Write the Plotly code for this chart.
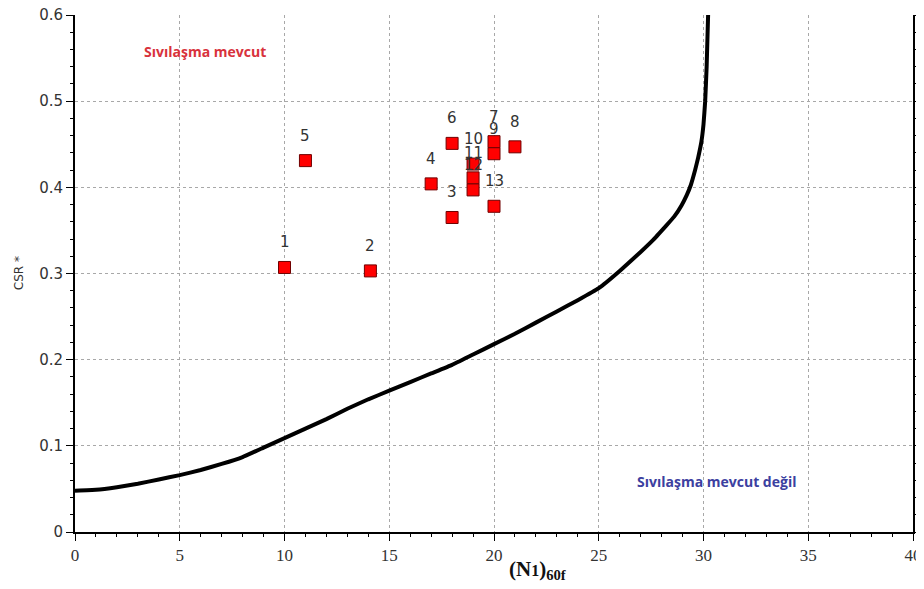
import plotly.graph_objects as go

# Data points (N1)60f vs CSR*
point_labels = ["1", "2", "3", "4", "5", "6", "7", "8", "9", "10", "11", "12", "13"]
point_n = [10.0, 14.1, 18.0, 17.0, 11.0, 18.0, 20.0, 21.0, 20.0, 19.0, 19.0, 19.0, 20.0]
point_csr = [0.307, 0.303, 0.365, 0.404, 0.431, 0.451, 0.453, 0.447, 0.439, 0.427, 0.411, 0.397, 0.378]

# Boundary curve
curve_n = [0, 1, 2, 3, 4, 5, 6, 7, 8, 9, 10, 11, 12, 13, 14, 15, 16, 17, 18, 19, 20, 21, 22, 23, 24, 25,
           26, 27, 27.6, 28.2, 28.6, 28.95, 29.2, 29.4, 29.6, 29.75, 29.9, 30.0, 30.08, 30.15, 30.22]
curve_csr = [0.048, 0.049, 0.052, 0.056, 0.061, 0.066, 0.072, 0.079, 0.087, 0.098, 0.109, 0.120, 0.131,
             0.143, 0.154, 0.164, 0.174, 0.184, 0.194, 0.206, 0.218, 0.230, 0.243, 0.256, 0.269, 0.283,
             0.303, 0.325, 0.339, 0.355, 0.366, 0.379, 0.391, 0.403, 0.420, 0.435, 0.453, 0.473, 0.500, 0.540, 0.600]

x_ticks = [0, 5, 10, 15, 20, 25, 30, 35, 40]
y_ticks = [0, 0.1, 0.2, 0.3, 0.4, 0.5, 0.6]

fig = go.Figure()
fig.add_trace(go.Scatter(x=curve_n, y=curve_csr, mode="lines",
                         line=dict(color="black", width=4, shape="spline", smoothing=0.3),
                         hoverinfo="skip", showlegend=False))
fig.add_trace(go.Scatter(x=point_n, y=point_csr, mode="markers",
                         marker=dict(symbol="square", size=12, color="#ff0000",
                                     line=dict(color="#700000", width=1)),
                         showlegend=False))

for lab, xv, yv in zip(point_labels, point_n, point_csr):
    fig.add_annotation(x=xv, y=yv, text=lab, showarrow=False, yshift=25,
                       font=dict(family="DejaVu Sans", size=15, color="#333333"))

fig.add_annotation(x=6.2, y=0.558, text="<b>Sıvılaşma mevcut</b>", showarrow=False,
                   font=dict(family="Open Sans", size=14, color="#d8323c"))
fig.add_annotation(x=30.6, y=0.059, text="<b>Sıvılaşma mevcut değil</b>", showarrow=False,
                   font=dict(family="Open Sans", size=14, color="#3c40a0"))

fig.add_annotation(xref="paper", yref="paper", x=0.553, y=-0.074, yanchor="middle",
                   text="<b>(N<span style='font-size:16px'>1</span>)<sub>60f</sub></b>",
                   showarrow=False, font=dict(family="Liberation Serif", size=21, color="#111111"))
fig.add_annotation(xref="paper", yref="paper", x=-0.078, y=0.5, textangle=-90,
                   text="CSR *", showarrow=False,
                   font=dict(family="DejaVu Sans", size=12, color="#333333"))

fig.update_layout(
    width=916, height=581,
    margin=dict(l=67, r=11, t=7, b=57, autoexpand=False),
    paper_bgcolor="white", plot_bgcolor="white",
    xaxis=dict(range=[0, 40], tickvals=x_ticks, ticktext=[str(v) for v in x_ticks],
               automargin=False, ticklabeloverflow="allow",
               showline=True, linecolor="black", linewidth=2, mirror=False,
               ticks="outside", ticklen=7, tickcolor="black", tickwidth=1,
               minor=dict(ticks="outside", dtick=1, ticklen=3, tickcolor="black", showgrid=False),
               showgrid=True, gridcolor="#a8a8a8", griddash="dot", gridwidth=1,
               zeroline=False,
               tickfont=dict(family="Liberation Sans Narrow", size=17, color="#333333")),
    xaxis2=dict(range=[0, 40], overlaying="x", side="top", showline=True, automargin=False,
                linecolor="#777777", linewidth=1, ticks="outside", ticklen=5,
                tickcolor="#777777", dtick=5, showticklabels=False, showgrid=False,
                zeroline=False,
                minor=dict(ticks="outside", dtick=1, ticklen=3, tickcolor="#777777")),
    yaxis=dict(range=[0, 0.6], tickvals=y_ticks, ticktext=["0", "0.1", "0.2", "0.3", "0.4", "0.5", "0.6"],
               automargin=False, ticklabeloverflow="allow",
               showline=True, linecolor="black", linewidth=2, mirror="ticks",
               ticks="outside", ticklen=7, tickcolor="black", tickwidth=1,
               minor=dict(ticks="outside", dtick=0.02, ticklen=3, tickcolor="black", showgrid=False),
               showgrid=True, gridcolor="#a8a8a8", griddash="dot", gridwidth=1,
               zeroline=False,
               tickfont=dict(family="DejaVu Sans", size=15, color="#333333")),
)

fig.write_html("out.html")
